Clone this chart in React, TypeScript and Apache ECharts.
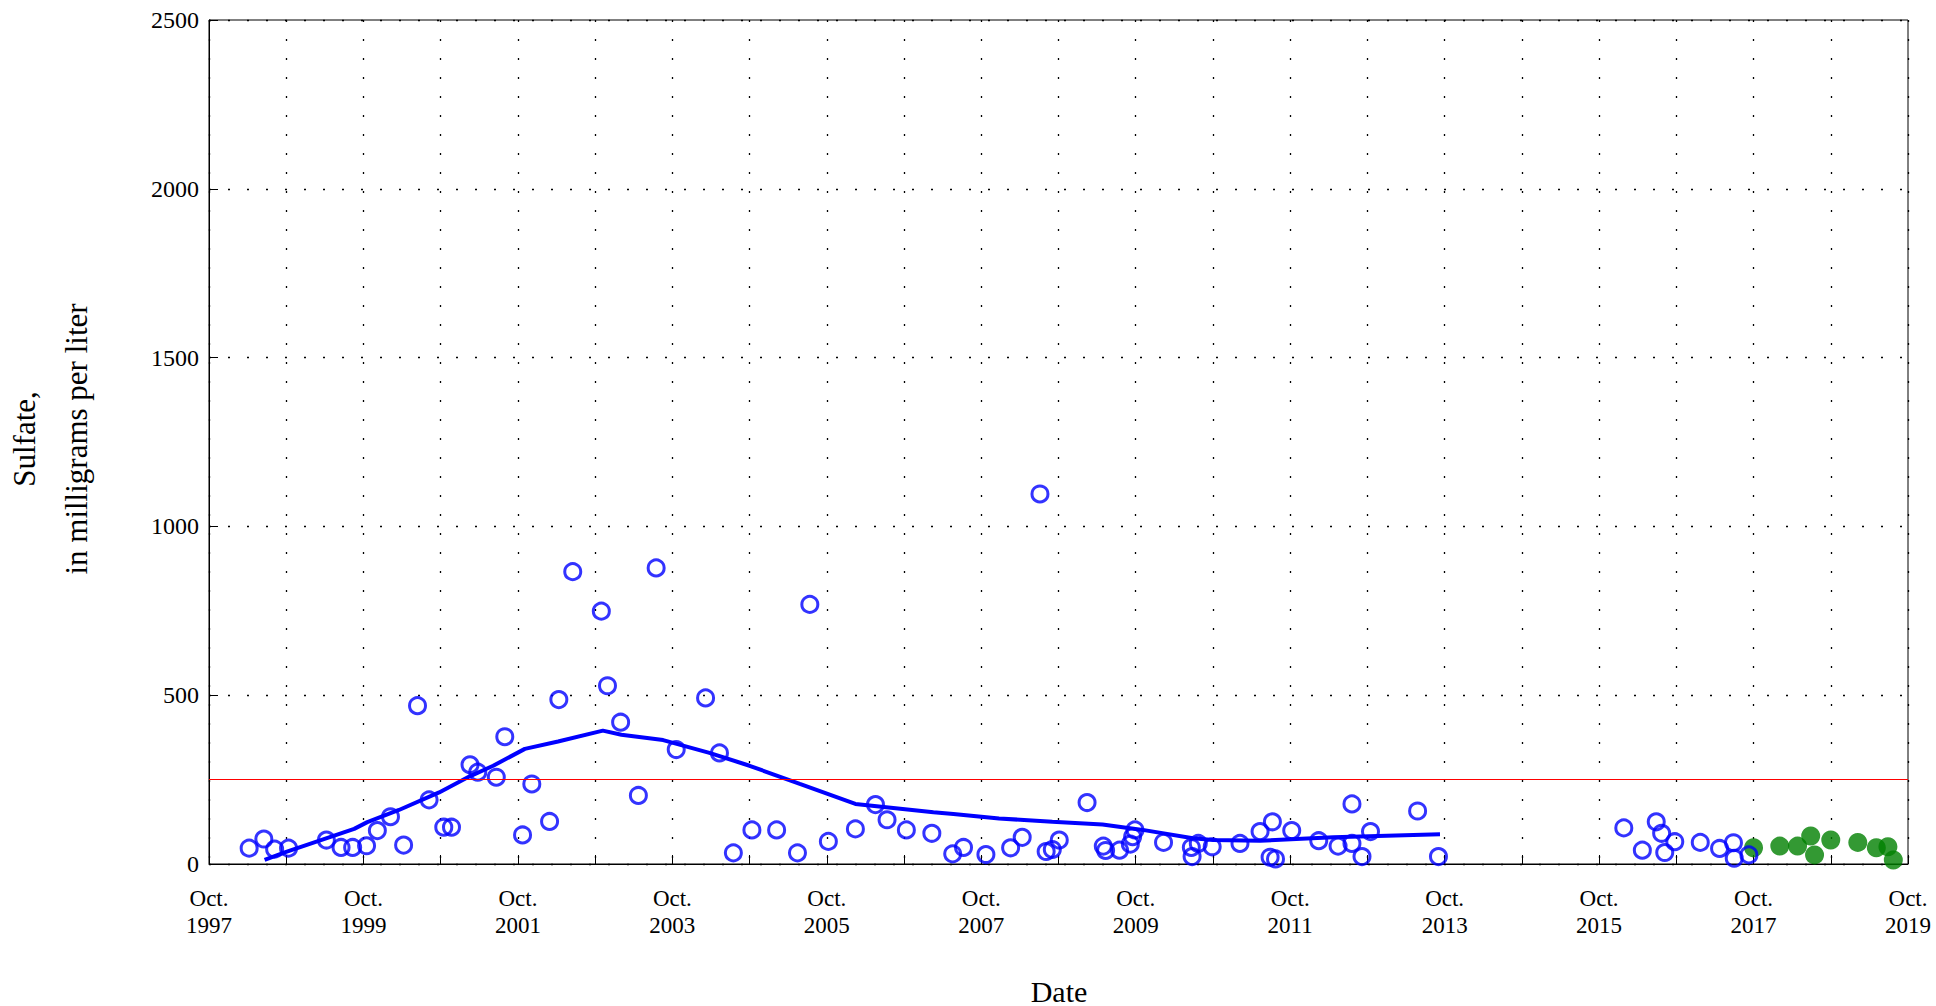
import React, { useEffect, useRef } from "react";
import * as echarts from "echarts";

// Axis runs from Oct. 1997 to Oct. 2019 (decimal years)
const AXIS_START = 1997.75;
const AXIS_YEARS = 22;
const FIRST_LABEL_YEAR = 1997;

const yTicks = [0, 500, 1000, 1500, 2000, 2500];
const referenceLevel = 250;

// Sulfate samples (open blue circles)
const blueDates = [
  1998.27, 1998.46, 1998.6, 1998.78, 1999.27, 1999.46, 1999.61, 1999.79, 1999.93, 2000.1,
  2000.27, 2000.45, 2000.6, 2000.79, 2000.89, 2001.13, 2001.23, 2001.47, 2001.58, 2001.81,
  2001.93, 2002.16, 2002.28, 2002.46, 2002.83, 2002.91, 2003.08, 2003.31, 2003.54, 2003.8,
  2004.18, 2004.36, 2004.54, 2004.78, 2005.1, 2005.37, 2005.53, 2005.77, 2006.12, 2006.38,
  2006.53, 2006.78, 2007.11, 2007.38, 2007.52, 2007.81, 2008.13, 2008.28, 2008.51, 2008.59,
  2008.67, 2008.76, 2009.12, 2009.33, 2009.36, 2009.54, 2009.68, 2009.71, 2009.74, 2010.11,
  2010.47, 2010.48, 2010.56, 2010.74, 2011.1, 2011.36, 2011.52, 2011.49, 2011.56, 2011.77,
  2012.12, 2012.37, 2012.55, 2012.55, 2012.68, 2012.79, 2013.4, 2013.67, 2016.07, 2016.31,
  2016.49, 2016.56, 2016.6, 2016.73, 2017.06, 2017.31, 2017.49, 2017.5, 2017.69,
];
const blueValues = [
  47, 74, 44, 47, 71, 49, 49, 54, 99, 140,
  56, 469, 190, 109, 109, 294, 272, 257, 377, 86,
  237, 126, 487, 866, 749, 528, 420, 203, 877, 339,
  492, 329, 33, 101, 101, 33, 769, 67, 104, 176,
  131, 101, 91, 30, 49, 28, 48, 79, 1096, 37,
  43, 71, 182, 53, 40, 41, 59, 81, 101, 64,
  49, 22, 61, 51, 61, 96, 125, 20, 15, 99,
  69, 53, 178, 61, 22, 96, 157, 22, 107, 41,
  125, 91, 34, 66, 64, 46, 63, 17, 27,
];

// Recent samples (filled green circles)
const greenDates = [2017.75, 2018.09, 2018.32, 2018.49, 2018.54, 2018.75, 2019.1, 2019.34, 2019.49, 2019.56];
const greenValues = [48, 53, 53, 83, 27, 71, 64, 48, 51, 12];

// Smoothed trend (blue line)
const trendDates = [
  1998.47, 1998.74, 1999.63, 1999.8, 2000.21, 2000.73, 2001.12, 2001.43, 2001.84, 2002.27,
  2002.85, 2003.09, 2003.63, 2004.23, 2004.75, 2005.4, 2006.12, 2007.13, 2007.39, 2007.98,
  2008.67, 2009.32, 2009.84, 2010.49, 2010.75, 2011.36, 2012.31, 2013.69,
];
const trendValues = [
  12, 35, 104, 124, 160, 212, 259, 291, 341, 363,
  395, 383, 367, 329, 291, 237, 178, 153, 148, 135,
  125, 117, 101, 76, 71, 69, 79, 88,
];

const SERIF = '"Liberation Serif", "Times New Roman", Times, serif';

const toPairs = (dates: number[], values: number[]) =>
  dates.map((d, i) => [d - AXIS_START, values[i]]);

export default function App() {
  const ref = useRef<HTMLDivElement>(null);

  useEffect(() => {
    if (!ref.current) return;
    const chart = echarts.init(ref.current, undefined, { renderer: "svg" });
    const dotted = { color: "#000", width: 1.3, type: [2, 17] as number[] };
    const titleStyle = (text: string, size: number) => ({
      text,
      font: `${size}px ${SERIF}`,
      fill: "#000",
      textAlign: "center",
      textVerticalAlign: "middle",
      align: "center",
      verticalAlign: "middle",
    });
    chart.setOption({
      animation: false,
      backgroundColor: "#fff",
      grid: {
        left: 209,
        right: 28,
        top: 20,
        bottom: 142,
        show: true,
        borderColor: "#000",
        borderWidth: 1,
        backgroundColor: "transparent",
      },
      xAxis: {
        type: "value",
        min: 0,
        max: AXIS_YEARS,
        interval: 1,
        axisLine: { show: true, onZero: false, lineStyle: { color: "#000", width: 1 } },
        axisTick: { show: true, inside: true, length: 9, lineStyle: { color: "#000", width: 1 } },
        splitLine: { show: true, lineStyle: dotted },
        axisLabel: {
          margin: 21,
          fontFamily: SERIF,
          fontSize: 23,
          lineHeight: 27,
          color: "#000",
          formatter: (v: number) =>
            Math.round(v) % 2 === 0 ? `Oct.\n${FIRST_LABEL_YEAR + Math.round(v)}` : "",
        },
      },
      yAxis: {
        type: "value",
        min: yTicks[0],
        max: yTicks[yTicks.length - 1],
        interval: yTicks[1] - yTicks[0],
        axisLine: { show: true, lineStyle: { color: "#000", width: 1 } },
        axisTick: { show: true, inside: true, length: 9, lineStyle: { color: "#000", width: 1 } },
        splitLine: { show: true, lineStyle: dotted },
        axisLabel: {
          margin: 10,
          fontFamily: SERIF,
          fontSize: 24,
          color: "#000",
          formatter: (v: number) => String(v),
        },
      },
      graphic: [
        { type: "text", x: 24, y: 439, rotation: Math.PI / 2, style: titleStyle("Sulfate,", 31) },
        { type: "text", x: 76, y: 439, rotation: Math.PI / 2, style: titleStyle("in milligrams per liter", 31) },
        { type: "text", x: 1059, y: 991, style: titleStyle("Date", 30) },
      ],
      series: [
        {
          type: "scatter",
          name: "samples",
          data: toPairs(blueDates, blueValues),
          symbol: "circle",
          symbolSize: 16,
          clip: false,
          itemStyle: { color: "rgba(0,0,0,0)", borderColor: "#0000ff", borderWidth: 3 },
          markLine: {
            silent: true,
            symbol: "none",
            label: { show: false },
            lineStyle: { color: "#ff0000", width: 1.2, type: "solid" },
            data: [{ yAxis: referenceLevel }],
          },
          z: 3,
        },
        {
          type: "line",
          name: "trend",
          data: toPairs(trendDates, trendValues),
          showSymbol: false,
          symbol: "none",
          lineStyle: { color: "#0000ff", width: 4 },
          z: 4,
        },
        {
          type: "scatter",
          name: "recent",
          data: toPairs(greenDates, greenValues),
          symbol: "circle",
          symbolSize: 19,
          clip: false,
          itemStyle: { color: "#008000", borderWidth: 0 },
          z: 2,
        },
      ],
    });
    return () => chart.dispose();
  }, []);

  return (
    <div
      ref={ref}
      style={{ position: "absolute", left: 0, top: 0, width: 1936, height: 1006, background: "#fff" }}
    />
  );
}
